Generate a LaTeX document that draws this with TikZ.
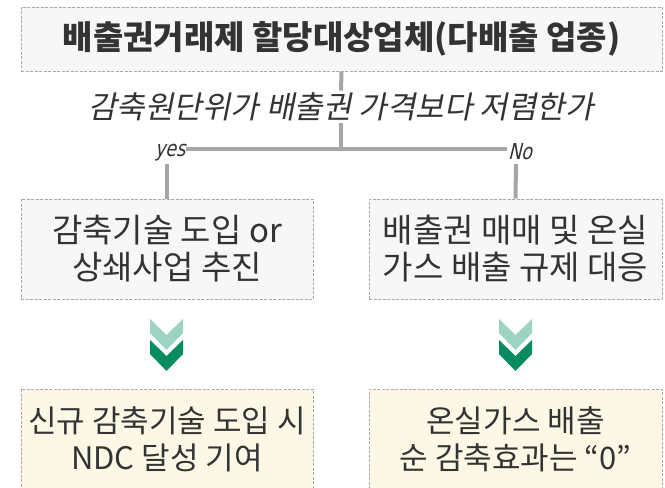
\documentclass[tikz,border=0pt]{standalone}
\usepackage{fontspec}
\setmainfont{Noto Sans CJK KR}
\newfontfamily\krslant[FakeSlant=0.2]{Noto Sans CJK KR}
\newfontfamily\handfont[FakeSlant=0.25,FakeStretch=0.8]{DejaVu Sans}
\definecolor{txt}{HTML}{333333}
\definecolor{boxline}{HTML}{AAAAAA}
\definecolor{boxfill}{HTML}{F7F7F7}
\definecolor{cream}{HTML}{FDF7E6}
\definecolor{conn}{HTML}{A6A6A6}
\definecolor{lightgreen}{HTML}{9DD3C3}
\definecolor{darkgreen}{HTML}{078C62}
\tikzset{
  graybox/.style={draw=boxline, line width=0.9pt, dash pattern=on 3pt off 1.5pt, fill=boxfill,
    inner sep=0pt, align=center, text=txt, font=\fontsize{33}{37}\selectfont},
  creambox/.style={graybox, fill=cream, font=\fontsize{31}{37}\selectfont},
  connector/.style={draw=conn, line width=4pt},
  yesno/.style={inner sep=1pt, text=txt, font=\handfont\fontsize{22}{22}\selectfont},
}
\begin{document}
\begin{tikzpicture}[x=1pt,y=-1pt]
\clip (0,0) rectangle (665,488);
\fill[white] (0,0) rectangle (665,488);

\node[graybox, minimum width=641pt, minimum height=64pt,
      font=\bfseries\fontsize{33}{37}\selectfont, text=txt] (title) at (341.5,39)
      {배출권거래제 할당대상업체(다배출 업종)};
\node[inner sep=2pt, text=txt, font=\krslant\fontsize{31}{34}\selectfont] (q) at (341,107)
      {감축원단위가 배출권 가격보다 저렴한가};

\node[yesno] (yes) at (170,153) {yes};
\node[yesno] (no) at (520,152) {No};
\coordinate (j) at (341,149);

\node[graybox, minimum width=292pt, minimum height=100pt] (left) at (167,249)
      {감축기술 도입 or\\상쇄사업 추진};
\node[graybox, minimum width=293pt, minimum height=100pt] (right) at (515.5,249)
      {배출권 매매 및 온실\\가스 배출 규제 대응};

\node[creambox, minimum width=292pt, minimum height=100pt] (leftres) at (167,439)
      {신규 감축기술 도입 시\\NDC 달성 기여};
\node[creambox, minimum width=293pt, minimum height=100pt] (rightres) at (515.5,439)
      {온실가스 배출\\순 감축효과는 “0”};

\draw[connector] (title.south) -- (q.north);
\draw[connector] (q.south) -- (j);
\draw[connector] (yes.east |- j) -- (no.west |- j);
\draw[connector] (167,164) -- (left.north);
\draw[connector] (516,164) -- (right.north);

\foreach \c in {166.5,515.5}{
  \fill[lightgreen] (\c-16.5,319) -- (\c,335) -- (\c+16.5,319) -- (\c+16.5,333) -- (\c,350) -- (\c-16.5,333) -- cycle;
  \fill[darkgreen] (\c-16.5,340) -- (\c,356) -- (\c+16.5,340) -- (\c+16.5,354) -- (\c,371) -- (\c-16.5,354) -- cycle;
}
\end{tikzpicture}
\end{document}
